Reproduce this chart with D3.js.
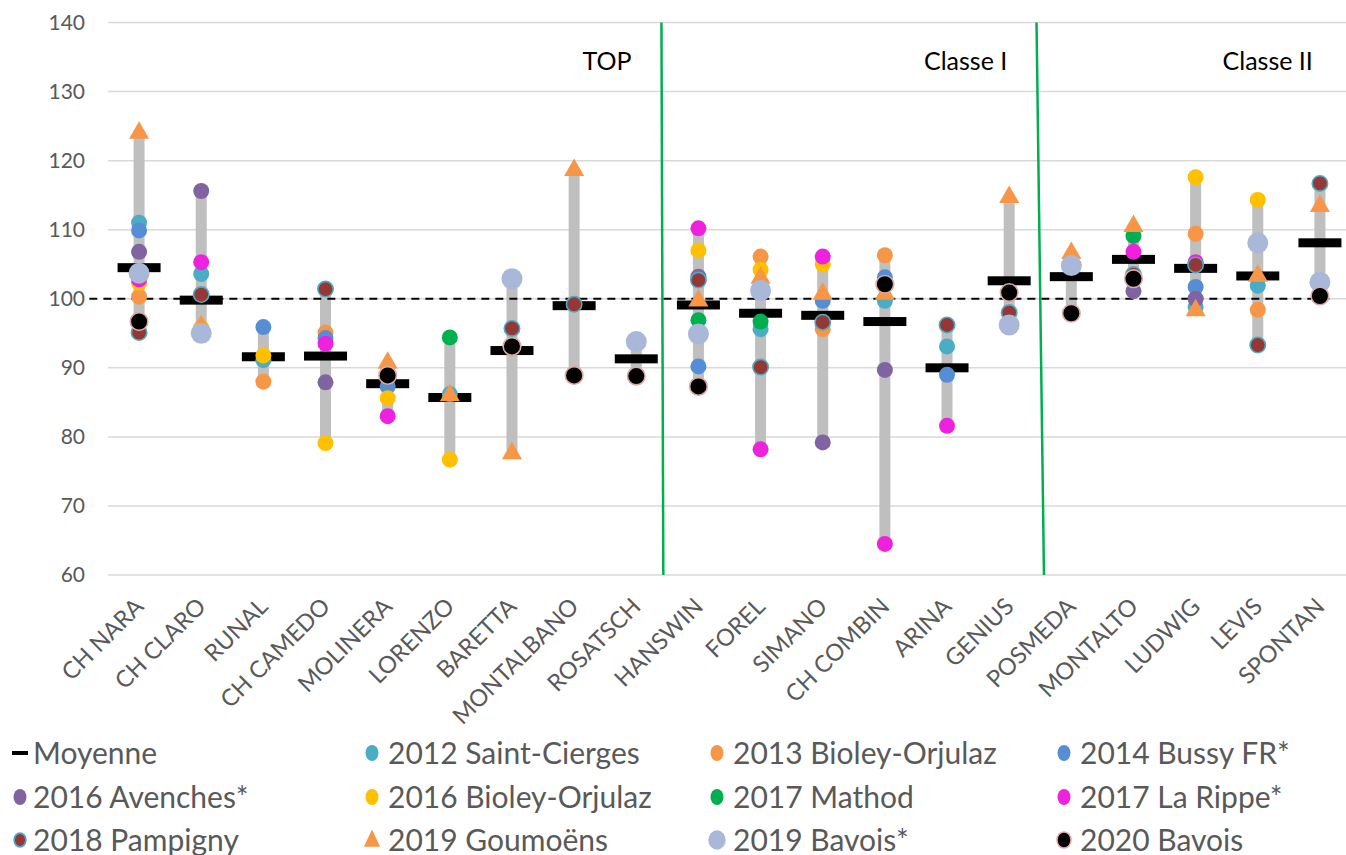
<!DOCTYPE html>
<html>
<head>
<meta charset="utf-8">
<script src="https://cdn.jsdelivr.net/npm/d3@7"></script>
<style>
  body { margin: 0; background: #fff; }
  svg { font-family: Lato, "Open Sans", sans-serif; }
</style>
</head>
<body>
<div id="chart"></div>
<script>
// categories and series
const varieties = ["CH NARA", "CH CLARO", "RUNAL", "CH CAMEDO", "MOLINERA", "LORENZO", "BARETTA",
  "MONTALBANO", "ROSATSCH", "HANSWIN", "FOREL", "SIMANO", "CH COMBIN", "ARINA", "GENIUS",
  "POSMEDA", "MONTALTO", "LUDWIG", "LEVIS", "SPONTAN"];

const moyenne = [104.5, 99.8, 91.6, 91.7, 87.7, 85.7, 92.5, 99.0, 91.3, 99.1,
  97.9, 97.6, 96.7, 90.0, 102.6, 103.2, 105.7, 104.4, 103.3, 108.1];

const saintCierges2012 = [111.0, 103.6, 91.1, null, null, 86.2, null, null, null, null,
  95.6, null, 99.7, 93.1, null, null, null, 98.8, 101.9, null];
const bioley2013 = [100.3, null, 88.0, 95.1, null, null, null, null, null, null,
  106.1, 95.6, 106.3, null, null, null, null, 109.4, 98.4, null];
const bussy2014 = [109.9, null, 95.9, 94.3, 87.3, null, null, null, null, 90.2,
  null, 99.7, 103.1, 89.0, null, null, null, 101.7, null, null];
const avenches2016 = [106.8, 115.6, null, 87.9, null, null, null, null, null, 103.2,
  null, 79.2, 89.7, null, null, null, 101.1, 100.0, null, null];
const bioley2016 = [102.3, 95.8, 91.8, 79.1, 85.6, 76.7, null, null, null, 107.0,
  104.2, 105.0, null, null, null, null, null, 117.6, 114.3, null];
const mathod2017 = [null, null, null, null, null, 94.4, null, null, null, 96.9,
  96.7, null, null, null, null, null, 109.1, null, null, null];
const laRippe2017 = [102.8, 105.3, null, 93.5, 83.0, null, null, null, null, 110.2,
  78.2, 106.1, 64.5, 81.6, null, null, 106.8, 105.3, null, null];
const pampigny2018 = [95.1, 100.6, null, 101.4, null, null, 95.7, 99.2, null, 102.7,
  90.1, 96.6, null, 96.2, 98.0, null, 103.5, 104.9, 93.3, 116.7];
const goumoens2019 = [124.3, 96.3, null, null, 91.0, 86.3, 77.9, 118.9, null, 100.0,
  103.3, 101.0, 101.0, null, 115.0, 106.9, 110.8, 98.6, 103.6, 113.7];
const bavois2019 = [103.7, 95.0, null, null, null, null, 102.9, null, 93.8, 94.9,
  101.2, null, null, null, 96.2, 104.8, null, null, 108.1, 102.4];
const bavois2020 = [96.7, null, null, null, 88.9, null, 93.1, 88.9, 88.8, 87.3,
  null, null, 102.1, null, 100.9, 97.9, 102.9, null, null, 100.4];

const yTicks = [60, 70, 80, 90, 100, 110, 120, 130, 140];
const reference = 100;

// section labels and slanted separators (in category units)
const sections = [
  { label: "TOP", at: 8.03 },
  { label: "Classe I", at: 13.8 },
  { label: "Classe II", at: 18.66 }
];
const separators = [[8.905, 8.935], [14.94, 15.06]];

// series table (legend order = drawing order)
const series = [
  { name: "Moyenne", values: moyenne, type: "dash", fill: "#000" },
  { name: "2012 Saint-Cierges", values: saintCierges2012, type: "circle", fill: "#4BACC6" },
  { name: "2013 Bioley-Orjulaz", values: bioley2013, type: "circle", fill: "#F79646" },
  { name: "2014 Bussy FR*", values: bussy2014, type: "circle", fill: "#558ED5" },
  { name: "2016 Avenches*", values: avenches2016, type: "circle", fill: "#8064A2" },
  { name: "2016 Bioley-Orjulaz", values: bioley2016, type: "circle", fill: "#FFC000" },
  { name: "2017 Mathod", values: mathod2017, type: "circle", fill: "#00B050" },
  { name: "2017 La Rippe*", values: laRippe2017, type: "circle", fill: "#EE22DD" },
  { name: "2018 Pampigny", values: pampigny2018, type: "circle", fill: "#953735", stroke: "#4BACC6", r: 8.5 },
  { name: "2019 Goumoëns", values: goumoens2019, type: "triangle", fill: "#F79646" },
  { name: "2019 Bavois*", values: bavois2019, type: "circle", fill: "#A9B8D8", r: 10.5 },
  { name: "2020 Bavois", values: bavois2020, type: "circle", fill: "#000", stroke: "#DDA8A5", r: 9.6 }
];

const W = 1346, H = 855;
const plot = { left: 108, right: 1351, top: 22.5, bottom: 575 };

const svg = d3.select("#chart").append("svg")
  .attr("width", W).attr("height", H);

const x = d3.scaleBand().domain(varieties).range([plot.left, plot.right]);
const xi = d3.scaleLinear().domain([0, varieties.length]).range([plot.left, plot.right]);
const y = d3.scaleLinear().domain([60, 140]).range([plot.bottom, plot.top]);
const cx = name => x(name) + x.bandwidth() / 2;

// gridlines
svg.append("g")
  .selectAll("line").data(yTicks).join("line")
    .attr("x1", plot.left).attr("x2", W)
    .attr("y1", d => y(d)).attr("y2", d => y(d))
    .attr("stroke", "#d9d9d9").attr("stroke-width", 1.5);

// y axis labels
const yAxis = svg.append("g")
  .attr("transform", `translate(${plot.left - 23},0)`)
  .call(d3.axisLeft(y).tickValues(yTicks).tickSize(0).tickPadding(0));
yAxis.select(".domain").remove();
yAxis.selectAll("text")
  .attr("font-family", "Lato, sans-serif")
  .attr("font-size", 21).attr("fill", "#595959");

// x axis labels, rotated
const xAxis = svg.append("g")
  .attr("transform", `translate(0,${plot.bottom})`)
  .call(d3.axisBottom(x).tickSize(0).tickPadding(0));
xAxis.select(".domain").remove();
xAxis.selectAll("text")
  .attr("font-family", "Lato, sans-serif")
  .attr("font-size", 23.5).attr("fill", "#595959")
  .attr("text-anchor", "end")
  .attr("dy", 0)
  .attr("transform", "translate(6,33) rotate(-45)");

// grey range bars (min to max of each variety)
const pointSeries = series.filter(s => s.type !== "dash");
const ranges = varieties.map((v, i) => {
  const vals = pointSeries.map(s => s.values[i]).filter(d => d != null);
  return { v, lo: d3.min(vals), hi: d3.max(vals) };
});
svg.append("g")
  .selectAll("rect").data(ranges).join("rect")
    .attr("x", d => cx(d.v) - 5.5)
    .attr("width", 11)
    .attr("y", d => y(d.hi))
    .attr("height", d => y(d.lo) - y(d.hi))
    .attr("fill", "#bfbfbf");

// reference dashed line at 100
svg.append("line")
  .attr("x1", xi(-0.3)).attr("x2", xi(19.7))
  .attr("y1", y(reference)).attr("y2", y(reference))
  .attr("stroke", "#000").attr("stroke-width", 2.2)
  .attr("stroke-dasharray", "8,6");

// green separators
svg.append("g")
  .selectAll("line").data(separators).join("line")
    .attr("x1", d => xi(d[0])).attr("y1", y(140))
    .attr("x2", d => xi(d[1])).attr("y2", y(60))
    .attr("stroke", "#00B050").attr("stroke-width", 2.5);

// section labels
svg.append("g")
  .selectAll("text").data(sections).join("text")
    .attr("x", d => xi(d.at)).attr("y", 70)
    .attr("text-anchor", "middle")
    .attr("font-size", 25).attr("fill", "#000")
    .text(d => d.label);

// marker drawing
function marker(sel, s, legend) {
  if (s.type === "dash") {
    const w = legend ? 16 : 43, h = legend ? 4 : 9;
    sel.append("rect").attr("x", -w / 2).attr("y", -h / 2)
      .attr("width", w).attr("height", h).attr("fill", s.fill);
  } else if (s.type === "triangle") {
    sel.append("path")
      .attr("d", d3.symbol().type(d3.symbolTriangle).size(legend ? 140 : 175)())
      .attr("transform", legend ? "translate(0,1) scale(0.9,1.1)" : "translate(0,2)")
      .attr("fill", s.fill);
  } else {
    const r = s.r || 8;
    const sw = s.stroke ? 1.6 : 0;
    if (legend) {
      sel.append("ellipse")
        .attr("rx", (s.r ? r - 1.8 : 6.5) - sw / 2).attr("ry", (s.r ? r - 0.8 : 8) - sw / 2)
        .attr("fill", s.fill).attr("stroke", s.stroke || "none").attr("stroke-width", sw);
    } else {
      sel.append("circle").attr("r", r - sw / 2)
        .attr("fill", s.fill).attr("stroke", s.stroke || "none").attr("stroke-width", sw);
    }
  }
}

series.forEach(s => {
  const pts = varieties.map((v, i) => ({ v, val: s.values[i] })).filter(d => d.val != null);
  svg.append("g")
    .selectAll("g").data(pts).join("g")
      .attr("transform", d => `translate(${cx(d.v)},${y(d.val)})`)
      .each(function () { marker(d3.select(this), s, false); });
});

// legend, 4 columns x 3 rows
const legendCols = [20, 372, 717, 1064];
const legendRows = [753, 797, 840];
const legend = svg.append("g")
  .selectAll("g").data(series).join("g")
    .attr("transform", (d, i) => `translate(${legendCols[i % 4]},${legendRows[Math.floor(i / 4)]})`);
legend.each(function (s) { marker(d3.select(this), s, true); });
legend.append("text")
  .attr("x", (d, i) => i % 4 === 0 ? 13 : 16).attr("y", 0).attr("dy", "0.35em")
  .attr("font-size", 30).attr("fill", "#595959")
  .text(d => d.name);
</script>
</body>
</html>
